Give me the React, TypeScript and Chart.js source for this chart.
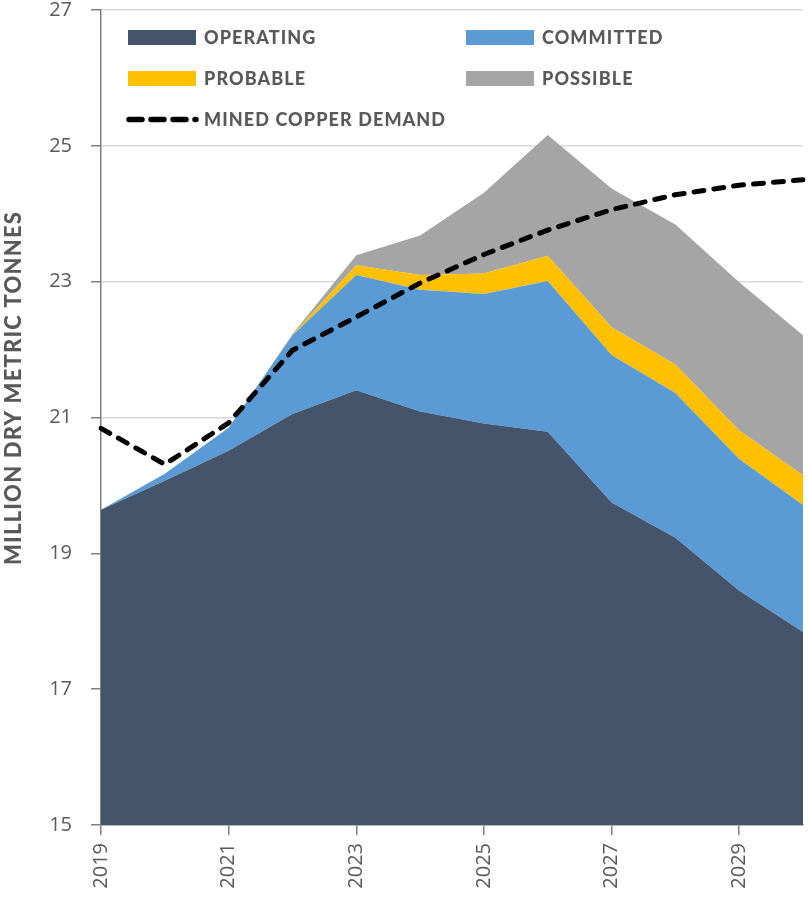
import React, { useEffect, useRef } from 'react';
import { Chart, registerables } from 'chart.js';

Chart.register(...registerables);

const years = ['2019', '2020', '2021', '2022', '2023', '2024', '2025', '2026', '2027', '2028', '2029', '2030'];
const operating = [19.64, 20.07, 20.51, 21.05, 21.40, 21.09, 20.91, 20.79, 19.75, 19.23, 18.45, 17.84];
const committed = [0.0, 0.10, 0.34, 1.16, 1.70, 1.79, 1.91, 2.22, 2.17, 2.13, 1.94, 1.87];
const probable = [0.0, 0.0, 0.0, 0.01, 0.14, 0.22, 0.30, 0.37, 0.41, 0.42, 0.42, 0.44];
const possible = [0.0, 0.0, 0.0, 0.01, 0.15, 0.58, 1.19, 1.78, 2.04, 2.06, 2.18, 2.06];
const demand = [20.84, 20.31, 20.92, 21.99, 22.48, 22.98, 23.40, 23.76, 24.06, 24.28, 24.42, 24.50];
const yMin = 15;
const yMax = 27;
const yStep = 2;

const COLORS = {
  operating: '#44546A',
  committed: '#5B9BD5',
  probable: '#FFC000',
  possible: '#A5A5A5',
  demand: '#000000',
  text: '#595959',
  axis: '#7f7f7f',
  grid: '#d9d9d9',
};

const legendItems = [
  { label: 'OPERATING', color: COLORS.operating, x: 128, y: 30, kind: 'box' },
  { label: 'COMMITTED', color: COLORS.committed, x: 466, y: 30, kind: 'box' },
  { label: 'PROBABLE', color: COLORS.probable, x: 128, y: 71, kind: 'box' },
  { label: 'POSSIBLE', color: COLORS.possible, x: 466, y: 71, kind: 'box' },
  { label: 'MINED COPPER DEMAND', color: COLORS.demand, x: 128, y: 112, kind: 'line' },
];

const overlayPlugin = {
  id: 'overlay',
  afterDraw(chart: any) {
    const ctx = chart.ctx as CanvasRenderingContext2D;
    ctx.save();
    for (const it of legendItems) {
      if (it.kind === 'box') {
        ctx.fillStyle = it.color;
        ctx.fillRect(it.x, it.y, 68, 15);
      } else {
        ctx.strokeStyle = it.color;
        ctx.lineWidth = 5.5;
        ctx.lineCap = 'round';
        ctx.setLineDash([13, 9]);
        ctx.beginPath();
        ctx.moveTo(129, it.y + 7.5);
        ctx.lineTo(196, it.y + 7.5);
        ctx.stroke();
        ctx.setLineDash([]);
      }
      ctx.fillStyle = COLORS.text;
      ctx.font = '900 18px Lato';
      (ctx as any).letterSpacing = '1.1px';
      ctx.textAlign = 'left';
      ctx.textBaseline = 'middle';
      ctx.fillText(it.label, it.x + 76, it.y + 8.5);
    }
    ctx.translate(14, 388);
    ctx.rotate(-Math.PI / 2);
    ctx.font = '900 22px Lato';
    (ctx as any).letterSpacing = '1.2px';
    ctx.textAlign = 'center';
    ctx.textBaseline = 'middle';
    ctx.fillStyle = COLORS.text;
    ctx.fillText('MILLION DRY METRIC TONNES', 0, 0);
    ctx.restore();
  },
};

export default function App() {
  const ref = useRef<HTMLCanvasElement | null>(null);

  useEffect(() => {
    if (!ref.current) return;
    const area = (label: string, data: number[], color: string, fill: any) => ({
      label,
      data,
      backgroundColor: color,
      borderColor: color,
      borderWidth: 0,
      pointRadius: 0,
      tension: 0,
      fill,
      stack: 'supply',
      order: 1,
    });
    const chart = new Chart(ref.current, {
      type: 'line',
      data: {
        labels: years,
        datasets: [
          area('Operating', operating, COLORS.operating, 'start'),
          area('Committed', committed, COLORS.committed, '-1'),
          area('Probable', probable, COLORS.probable, '-1'),
          area('Possible', possible, COLORS.possible, '-1'),
          {
            label: 'Mined copper demand',
            data: demand,
            borderColor: COLORS.demand,
            borderWidth: 5,
            borderDash: [10, 10],
            borderCapStyle: 'round',
            borderJoinStyle: 'round',
            pointRadius: 0,
            tension: 0,
            fill: false,
            stack: 'demand',
            order: 0,
          } as any,
        ],
      },
      options: {
        animation: false,
        responsive: false,
        devicePixelRatio: 1,
        layout: { padding: { top: 10, right: 5, left: 0, bottom: 0 } },
        plugins: {
          legend: { display: false },
          tooltip: { enabled: false },
        },
        scales: {
          x: {
            type: 'category',
            offset: false,
            grid: {
              drawOnChartArea: false,
              drawTicks: true,
              tickLength: 10,
              tickColor: COLORS.axis,
              lineWidth: 1.5,
            },
            border: { color: COLORS.axis, width: 1.5 },
            ticks: {
              autoSkip: false,
              maxRotation: 90,
              minRotation: 90,
              padding: 8,
              color: COLORS.text,
              font: { family: 'Open Sans', size: 20 },
              callback: (_v: any, i: number) => (i % 2 === 0 ? years[i] : null),
            },
            afterFit: (axis: any) => {
              axis.height = 76;
              axis.paddingLeft = 0;
              axis.paddingRight = 0;
            },
          },
          y: {
            type: 'linear',
            stacked: true,
            min: yMin,
            max: yMax,
            grid: {
              color: COLORS.grid,
              lineWidth: 1.5,
              tickLength: 10,
              tickColor: COLORS.axis,
            },
            border: { color: COLORS.axis, width: 1.5 },
            ticks: {
              stepSize: yStep,
              padding: 19,
              color: COLORS.text,
              font: { family: 'Open Sans', size: 20 },
            },
            afterFit: (axis: any) => {
              axis.width = 101;
              axis.paddingTop = 0;
              axis.paddingBottom = 0;
            },
          },
        },
      },
      plugins: [overlayPlugin],
    });
    return () => chart.destroy();
  }, []);

  return (
    <div style={{ position: 'fixed', left: 0, top: 0, width: 808, height: 901, background: '#fff' }}>
      <canvas ref={ref} width={808} height={901} style={{ width: 808, height: 901, display: 'block' }} />
    </div>
  );
}
